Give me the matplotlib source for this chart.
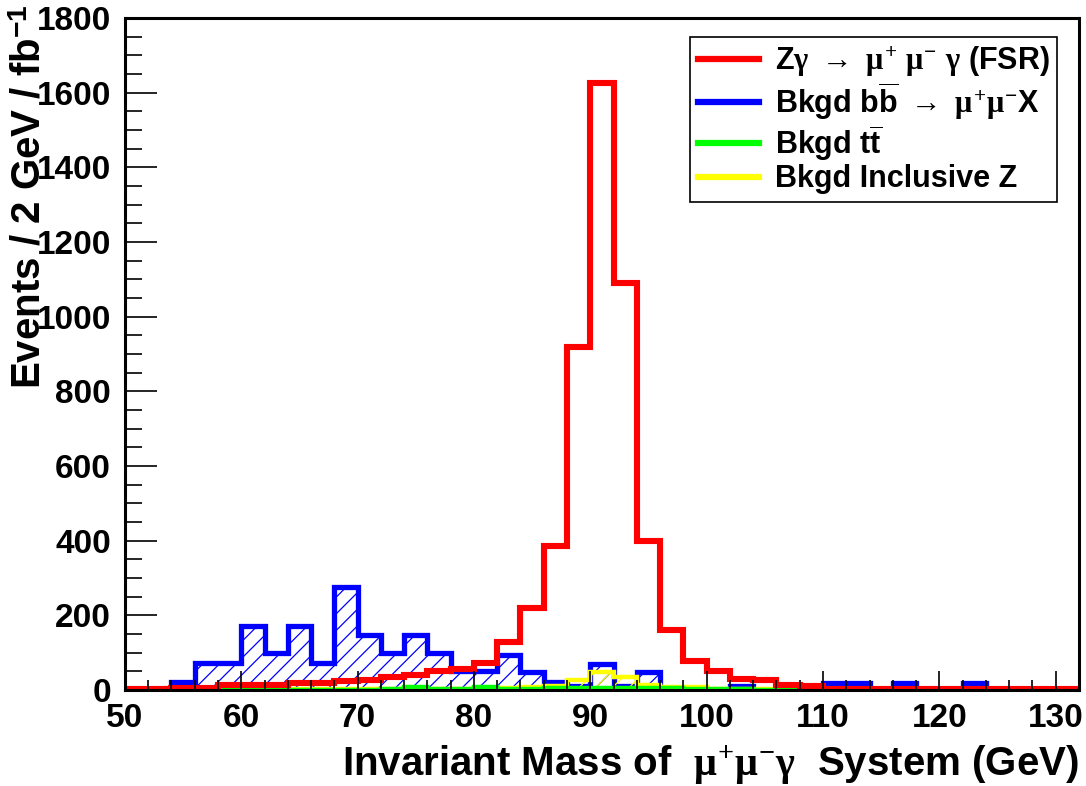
import numpy as np
import matplotlib
matplotlib.use('Agg')
import matplotlib.pyplot as plt
from matplotlib.lines import Line2D
from matplotlib.ticker import MultipleLocator

plt.rcParams['font.family'] = ['Liberation Sans', 'DejaVu Sans']
plt.rcParams['font.weight'] = 'bold'
plt.rcParams['mathtext.fontset'] = 'custom'
plt.rcParams['mathtext.rm'] = 'Liberation Serif'
plt.rcParams['mathtext.it'] = 'Liberation Serif'
plt.rcParams['mathtext.bf'] = 'Liberation Sans:bold'
plt.rcParams['hatch.linewidth'] = 0.9

''' Data: 2 GeV bins from 50 to 132 GeV '''
bin_edges = np.arange(50, 134, 2)

zgamma_fsr = [4, 4, 5, 6, 13, 14, 15, 19, 20, 25,
              26, 35, 40, 52, 57, 72, 130, 220, 385, 920,
              1625, 1090, 400, 160, 78, 50, 30, 28, 15, 10,
              2, 2, 2, 2, 2, 2, 2, 2, 2, 2, 2]

bkgd_bb = [0, 0, 22, 73, 73, 173, 99, 173, 73, 275,
           148, 99, 148, 99, 50, 50, 94, 49, 22, 12,
           69, 10, 49, 0, 0, 0, 12, 0, 0, 0,
           20, 20, 0, 20, 0, 0, 20, 0, 0, 0, 0]

bkgd_tt = [0, 0, 0, 0, 0, 0, 0, 0, 0, 0,
           0, 2, 8, 3, 2, 8, 3, 3, 5, 5,
           5, 5, 5, 5, 2, 2, 2, 0, 0, 0,
           0, 0, 0, 0, 0, 0, 0, 0, 0, 0, 0]

bkgd_incl_z = [0, 0, 0, 0, 3, 3, 3, 3, 3, 3,
               3, 4, 4, 4, 4, 5, 5, 8, 12, 27,
               48, 35, 15, 8, 8, 3, 3, 3, 3, 0,
               0, 0, 0, 0, 0, 0, 0, 0, 0, 0, 0]

legend_labels = [r'Z$\gamma$ $\rightarrow$ $\mu^{+}$ $\mu^{-}$ $\gamma$ (FSR)',
                 r'Bkgd b$\overline{\mathbf{b}}$ $\rightarrow$ $\mu^{+}\mu^{-}$X',
                 r'Bkgd t$\overline{\mathbf{t}}$',
                 'Bkgd Inclusive Z']

''' Graphing '''
fig = plt.figure(figsize=(10.86, 7.86), dpi=100)
ax = fig.add_axes([0.115, 0.122, 0.8785, 0.855])

# bbbar background: hatched fill plus outline
ax.stairs(bkgd_bb, bin_edges, fill=True, facecolor='none',
          edgecolor='#0000ff', hatch='//', linewidth=0)
ax.stairs(bkgd_bb, bin_edges, color='#0000ff', linewidth=3.8)

# inclusive Z background
ax.stairs(bkgd_incl_z, bin_edges, fill=True, facecolor='none',
          edgecolor='#ffff00', hatch='//', linewidth=0)
ax.stairs(bkgd_incl_z, bin_edges, color='#ffff00', linewidth=3.2)

# ttbar background
ax.stairs(bkgd_tt, bin_edges, color='#00ff00', linewidth=3.2)

# signal
ax.stairs(zgamma_fsr, bin_edges, color='#ff0000', linewidth=4.4)

ax.set_xlim(50, 132)
ax.set_ylim(0, 1800)
ax.xaxis.set_major_locator(MultipleLocator(10))
ax.xaxis.set_minor_locator(MultipleLocator(2))
ax.yaxis.set_major_locator(MultipleLocator(200))
ax.yaxis.set_minor_locator(MultipleLocator(50))

ax.tick_params(axis='x', which='major', direction='in', length=14, width=1.2,
               labelsize=24, pad=9)
ax.tick_params(axis='x', which='minor', direction='in', length=7, width=1.2)
ax.tick_params(axis='y', which='major', direction='in', length=23, width=1.2,
               labelsize=24, pad=10)
ax.tick_params(axis='y', which='minor', direction='in', length=12, width=1.2)
for lab in ax.get_xticklabels() + ax.get_yticklabels():
    lab.set_fontweight('bold')

for side in ['left', 'right', 'top', 'bottom']:
    ax.spines[side].set_linewidth(2.2)

ax.set_xlabel(r'Invariant Mass of  $\mu^{+}\mu^{-}\gamma$  System (GeV)',
              fontsize=29, fontweight='bold', loc='right', labelpad=7)
fig.text(30 / 1086, 1 - 4 / 786, r'Events / 2 GeV / fb$^{\mathbf{-1}}$',
         rotation=90, ha='center', va='top', fontsize=29, fontweight='bold')

handles = [Line2D([], [], color=c, linewidth=4.5)
           for c in ['#ff0000', '#0000ff', '#00ff00', '#ffff00']]
leg = ax.legend(handles, legend_labels, loc='upper right',
                bbox_to_anchor=(0.977, 0.972),
                prop={'weight': 'bold', 'size': 22},
                fancybox=False, framealpha=1, edgecolor='black',
                handlelength=2.0, labelspacing=0.05, borderpad=0.25,
                handletextpad=0.5, borderaxespad=0)
leg.get_frame().set_linewidth(1.2)

fig.savefig('out.png', dpi=100)
